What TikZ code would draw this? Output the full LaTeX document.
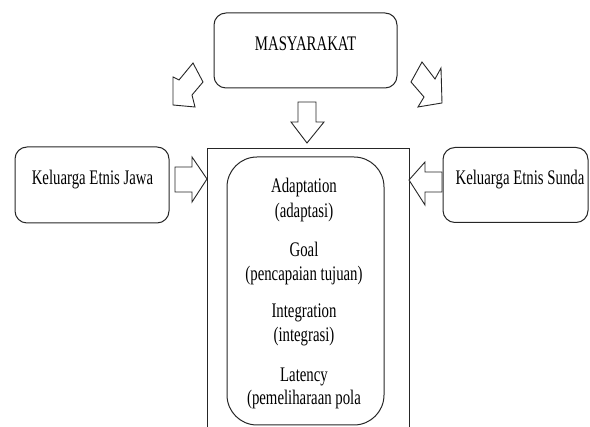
\documentclass[tikz,border=0pt]{standalone}
\usepackage{fontspec}
\setmainfont{Liberation Serif}
\newcommand\stretchtxt[1]{\scalebox{1}[1.4]{#1}}
\begin{document}
\begin{tikzpicture}[x=1pt,y=-1pt,
  box/.style={draw=black!85,line width=1pt,rounded corners=12pt,inner sep=0pt},
  lbl/.style={anchor=base,inner sep=0pt,font=\fontsize{14.8}{16}\selectfont},
  barrow/.style={draw=black!85,line width=0.9pt,fill=white,line join=miter}]
\useasboundingbox (0,0) rectangle (590,427);
% boxes
\node[box,minimum width=183pt,minimum height=75pt] (mas) at (305.5,50.5) {};
\node[lbl] (mast) at (305.5,50.5) {\stretchtxt{MASYARAKAT}};
\node[box,minimum width=154pt,minimum height=76pt] (jawa) at (92,185) {};
\node[lbl] (jawat) at (92.5,185) {\stretchtxt{Keluarga Etnis Jawa}};
\node[box,minimum width=145pt,minimum height=75pt] (sunda) at (515.5,185) {};
\node[lbl] (sundat) at (520,185) {\stretchtxt{Keluarga Etnis Sunda}};
% outer frame (cut off at bottom)
\coordinate (fbl) at (207,440);
\coordinate (ftl) at (207,149);
\coordinate (ftr) at (409,149);
\coordinate (fbr) at (409,440);
\draw[draw=black!85,line width=1pt] (fbl) -- (ftl) -- (ftr) -- (fbr);
% inner rounded box
\node[box,rounded corners=30pt,minimum width=157pt,minimum height=268pt] (agil) at (305.5,291) {};
\node[lbl] (t1) at (304,193) {\stretchtxt{Adaptation}};
\node[lbl] (t2) at (304,218) {\stretchtxt{(adaptasi)}};
\node[lbl] (t3) at (304,257) {\stretchtxt{Goal}};
\node[lbl] (t4) at (304,281) {\stretchtxt{(pencapaian tujuan)}};
\node[lbl] (t5) at (304,318) {\stretchtxt{Integration}};
\node[lbl] (t6) at (304,342) {\stretchtxt{(integrasi)}};
\node[lbl] (t7) at (304,382) {\stretchtxt{Latency}};
\node[lbl] (t8) at (304,405) {\stretchtxt{(pemeliharaan pola}};
% block arrows
% down arrow from MASYARAKAT
\draw[barrow] (298,102) -- (316,102) -- (316,122) -- (324,122) -- (307,143) -- (291,122) -- (298,122) -- cycle;
% Jawa -> frame
\draw[barrow] (175,167) -- (192,167) -- (192,157) -- (207,179) -- (192,202) -- (192,192) -- (175,192) -- cycle;
% Sunda -> frame
\draw[barrow] (442,172) -- (425,172) -- (425,162) -- (409,180) -- (425,205) -- (425,192) -- (442,192) -- cycle;
% diagonal left
\draw[barrow] (193,63) -- (203,82) -- (192,95) -- (195,107) -- (173,105) -- (173,77) -- (179,80) -- cycle;
% diagonal right
\draw[barrow] (422,62) -- (411,82) -- (424,97) -- (418,107) -- (442,103) -- (441,68) -- (435,79) -- cycle;
\end{tikzpicture}
\end{document}
